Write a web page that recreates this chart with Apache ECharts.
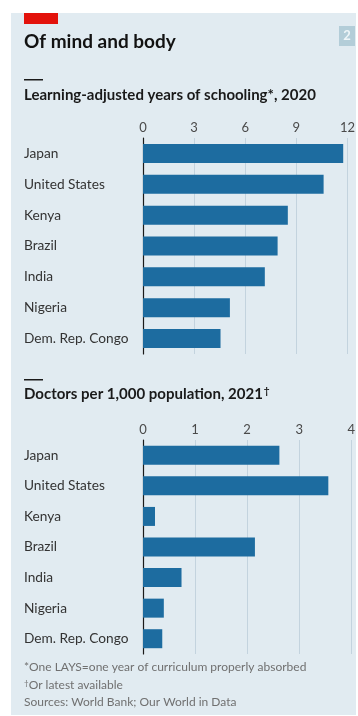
<!DOCTYPE html>
<html>
<head>
<meta charset="utf-8">
<style>
  html, body { margin: 0; padding: 0; background: #ffffff; }
  #chart { width: 358px; height: 716px; }
</style>
<script src="https://cdn.jsdelivr.net/npm/echarts@6/dist/echarts.min.js"></script>
</head>
<body>
<div id="chart"></div>
<script>
// Countries shown in both panels, top to bottom
const countries = ['Japan', 'United States', 'Kenya', 'Brazil', 'India', 'Nigeria', 'Dem. Rep. Congo'];

// Learning-adjusted years of schooling, 2020
const laysValues = [11.75, 10.6, 8.5, 7.9, 7.15, 5.1, 4.55];
const laysTicks = [0, 3, 6, 9, 12];

// Doctors per 1,000 population, 2021 (or latest available)
const doctorValues = [2.62, 3.56, 0.23, 2.15, 0.74, 0.4, 0.37];
const doctorTicks = [0, 1, 2, 3, 4];

const FONT = 'Lato, "Open Sans", sans-serif';
const BAR = '#1d6ca0';
const GRIDLINE = '#c3d3de';

function valueAxis(gridIndex, ticks) {
  return {
    type: 'value',
    gridIndex: gridIndex,
    position: 'top',
    min: ticks[0],
    max: ticks[ticks.length - 1],
    interval: ticks[1] - ticks[0],
    axisLine: { show: false },
    axisTick: { show: false },
    axisLabel: { color: '#4a4a4a', fontSize: 13, fontFamily: FONT, margin: 4 },
    splitLine: { show: true, lineStyle: { color: GRIDLINE, width: 1 } }
  };
}

function categoryAxis(gridIndex) {
  return {
    type: 'category',
    gridIndex: gridIndex,
    data: countries,
    inverse: true,
    axisLine: { show: true, onZero: false, lineStyle: { color: '#1a1a1a', width: 1.2 } },
    axisTick: { show: false },
    axisLabel: { align: 'left', margin: 119, color: '#333333', fontSize: 13.7, fontFamily: FONT }
  };
}

const footStyle = { fontFamily: FONT, fontSize: 12, fontWeight: 'normal', color: '#707070',
  rich: { sup: { fontFamily: FONT, fontSize: 8, color: '#707070', verticalAlign: 'top', padding: [0, 0, 4, 0] } } };
const subStyle = { fontFamily: FONT, fontSize: 15, fontWeight: 'bold', color: '#1a1a1a',
  rich: { sup: { fontFamily: FONT, fontSize: 10, fontWeight: 'bold', color: '#1a1a1a', padding: [0, 0, 6, 1] } } };

const chart = echarts.init(document.getElementById('chart'), null, { renderer: 'canvas' });

chart.setOption({
  backgroundColor: '#ffffff',
  animation: false,
  graphic: [
    // panel background
    { type: 'rect', shape: { x: 11, y: 13, width: 345, height: 702 }, style: { fill: '#e1ebf1' }, z: -10 },
    // red tag
    { type: 'rect', shape: { x: 24, y: 13, width: 34, height: 11 }, style: { fill: '#e3120b' } },
    // page badge
    { type: 'rect', shape: { x: 339, y: 26, width: 16, height: 20 }, style: { fill: '#b3cdd8' } },
    { type: 'text', style: { text: '2', x: 347, y: 36, fill: '#eef5f8', font: 'bold 13px ' + FONT, align: 'center', verticalAlign: 'middle' } },
    // short rules above subtitles
    { type: 'rect', shape: { x: 24, y: 79, width: 19, height: 1.5 }, style: { fill: '#1a1a1a' } },
    { type: 'rect', shape: { x: 24, y: 379, width: 19, height: 1.5 }, style: { fill: '#1a1a1a' } }
  ],
  title: [
    { text: 'Of mind and body', left: 24, top: 32, padding: 0,
      textStyle: { fontFamily: FONT, fontSize: 19, fontWeight: 'bold', color: '#121212' } },
    { text: 'Learning-adjusted years of schooling*, 2020', left: 24, top: 88, padding: 0,
      textStyle: subStyle },
    { text: 'Doctors per 1,000 population, 2021{sup|\u2020}', left: 24, top: 386, padding: 0,
      textStyle: subStyle },
    { text: '*One LAYS=one year of curriculum properly absorbed', left: 24, top: 661, padding: 0,
      textStyle: footStyle },
    { text: '{sup|\u2020}Or latest available', left: 24, top: 679, padding: 0,
      textStyle: footStyle },
    { text: 'Sources: World Bank; Our World in Data', left: 24, top: 696, padding: 0,
      textStyle: footStyle }
  ],
  grid: [
    { left: 143, right: 10, top: 138, height: 216 },
    { left: 143, right: 5.5, top: 440, height: 214 }
  ],
  xAxis: [valueAxis(0, laysTicks), valueAxis(1, doctorTicks)],
  yAxis: [categoryAxis(0), categoryAxis(1)],
  series: [
    { type: 'bar', xAxisIndex: 0, yAxisIndex: 0, data: laysValues, barWidth: 19,
      itemStyle: { color: BAR }, silent: true },
    { type: 'bar', xAxisIndex: 1, yAxisIndex: 1, data: doctorValues, barWidth: 19,
      itemStyle: { color: BAR }, silent: true }
  ]
});
</script>
</body>
</html>
